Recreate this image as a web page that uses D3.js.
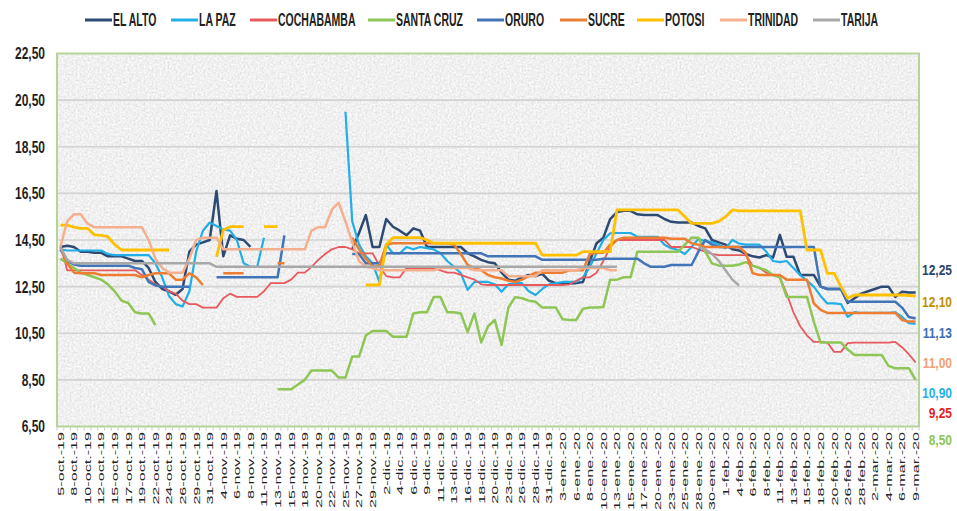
<!DOCTYPE html>
<html>
<head>
<meta charset="utf-8">
<script src="https://cdn.jsdelivr.net/npm/d3@7"></script>
<style>
  body { margin: 0; background: #fff; }
  svg { display: block; font-family: "Liberation Sans", Arial, sans-serif; }
</style>
</head>
<body>
<svg id="chart" width="957" height="511"></svg>
<script>
const _ = null;

// one category per quoted day (Mon-Sat); only every second day carries a label
const dateLabels = [
  "5-oct.-19", "8-oct.-19", "10-oct.-19", "12-oct.-19", "15-oct.-19", "17-oct.-19", "19-oct.-19", "22-oct.-19",
  "24-oct.-19", "26-oct.-19", "29-oct.-19", "31-oct.-19", "4-nov.-19", "6-nov.-19", "8-nov.-19", "11-nov.-19",
  "13-nov.-19", "15-nov.-19", "18-nov.-19", "20-nov.-19", "22-nov.-19", "25-nov.-19", "27-nov.-19", "29-nov.-19",
  "2-dic.-19", "4-dic.-19", "6-dic.-19", "9-dic.-19", "11-dic.-19", "13-dic.-19", "16-dic.-19", "18-dic.-19",
  "20-dic.-19", "23-dic.-19", "26-dic.-19", "28-dic.-19", "31-dic.-19", "3-ene.-20", "6-ene.-20", "8-ene.-20",
  "10-ene.-20", "13-ene.-20", "15-ene.-20", "17-ene.-20", "20-ene.-20", "23-ene.-20", "25-ene.-20", "28-ene.-20",
  "30-ene.-20", "1-feb.-20", "4-feb.-20", "6-feb.-20", "8-feb.-20", "11-feb.-20", "13-feb.-20", "15-feb.-20",
  "18-feb.-20", "20-feb.-20", "26-feb.-20", "28-feb.-20", "2-mar.-20", "4-mar.-20", "6-mar.-20", "9-mar.-20"
];
const nDays = 127;

const elAlto = [
  14.2, 14.25, 14.2, 14.0, 14.0, 13.95, 13.95, 13.8, 13.8, 13.8,
  13.7, 13.6, 13.6, 13.3, 12.7, 12.4, 12.3, 12.15, 12.4, 14.0,
  14.3, 14.4, 14.5, 16.6, 13.8, 14.7, 14.55, 14.5, 14.2, _,
  _, _, _, _, _, _, _, _, _, _,
  _, _, _, 14.1, 14.8, 15.57, 14.2, 14.2, 15.4, 15.07,
  14.9, 14.7, 15.0, 14.9, 14.2, 14.2, 14.2, 14.2, 14.2, 14.2,
  13.93, 13.8, 13.65, 13.55, 13.5, 13.1, 12.8, 12.75, 12.9, 13.0,
  12.95, 13.05, 12.75, 12.65, 12.65, 12.65, 12.65, 12.7, 13.6, 14.36,
  14.6, 15.4, 15.7, 15.75, 15.75, 15.6, 15.57, 15.57, 15.57, 15.4,
  15.28, 15.25, 15.25, 15.25, 15.1, 15.0, 14.5, 14.4, 14.3, 14.1,
  14.05, 13.9, 13.8, 13.75, 13.85, 13.75, 14.72, 13.78, 13.78, 13.0,
  13.0, 13.0, 12.5, 12.4, 12.4, 12.4, 11.8, 12.0, 12.2, 12.3,
  12.4, 12.5, 12.5, 12.06, 12.28, 12.25, 12.25
];
const laPaz = [
  14.1, 14.05, 14.05, 14.05, 14.05, 14.05, 14.05, 13.9, 13.85, 13.85,
  13.85, 13.85, 13.85, 13.85, 13.5, 12.9, 12.1, 11.75, 11.65, 12.3,
  14.0, 14.9, 15.25, 15.1, 14.95, 14.9, 14.5, 13.5, 13.35, 13.35,
  14.6, _, _, _, _, _, _, _, _, _,
  _, _, 20.0, 15.3, 14.3, 13.8, 13.5, 12.7, 14.3, 13.93,
  13.93, 14.2, 14.1, 14.2, 14.15, 14.1, 13.93, 13.6, 13.35, 13.07,
  12.36, 12.7, 12.7, 12.7, 12.6, 12.28, 12.6, 12.65, 12.65, 12.3,
  12.14, 12.4, 12.6, 12.65, 12.7, 12.7, 12.7, 12.9, 13.35, 13.93,
  14.5, 14.79, 14.8, 14.8, 14.8, 14.64, 14.64, 14.64, 14.64, 14.3,
  14.15, 14.07, 13.9, 14.2, 14.55, 14.45, 14.4, 14.3, 14.15, 14.5,
  14.35, 14.3, 14.3, 14.3, 14.0, 13.6, 13.55, 13.6, 13.3, 13.0,
  12.75, 12.5, 12.1, 11.78, 11.78, 11.75, 11.2, 11.41, 11.37, 11.37,
  11.37, 11.37, 11.37, 11.4, 11.2, 10.93, 10.9
];
const cochabamba = [
  14.3, 13.2, 13.2, 13.2, 13.2, 13.2, 13.2, 13.2, 13.2, 13.2,
  13.2, 13.2, 13.0, 12.8, 12.6, 12.5, 12.3, 12.2, 11.9, 11.75,
  11.75, 11.6, 11.6, 11.6, 12.0, 12.2, 12.06, 12.06, 12.06, 12.06,
  12.3, 12.65, 12.65, 12.65, 12.8, 13.1, 13.1, 13.35, 13.65, 13.9,
  14.1, 14.2, 14.2, 14.1, 13.93, 13.93, 13.93, 13.4, 12.95, 12.9,
  12.9, 13.3, 13.3, 13.3, 13.3, 13.3, 13.2, 13.1, 13.1, 13.0,
  12.9, 12.8, 12.6, 12.57, 12.57, 12.57, 12.57, 12.57, 12.57, 12.57,
  12.57, 12.57, 12.57, 12.57, 12.57, 12.6, 12.75, 12.9, 12.9, 13.1,
  13.6, 14.2, 14.5, 14.5, 14.5, 14.5, 14.5, 14.5, 14.5, 14.5,
  14.2, 14.2, 14.2, 14.2, 14.1, 14.0, 13.9, 13.85, 13.85, 13.85,
  13.85, 13.85, 13.4, 13.3, 13.1, 13.0, 12.9, 12.2, 11.4, 10.8,
  10.4, 10.13, 10.13, 10.1, 9.7, 9.7, 10.08, 10.1, 10.1, 10.1,
  10.1, 10.1, 10.1, 10.13, 9.9, 9.6, 9.25
];
const santaCruz = [
  13.7, 13.5, 13.3, 13.1, 13.0, 12.9, 12.8, 12.6, 12.3, 11.9,
  11.8, 11.4, 11.35, 11.35, 10.85, _, _, _, _, _,
  _, _, _, _, _, _, _, _, _, _,
  _, _, 8.1, 8.1, 8.1, 8.3, 8.5, 8.9, 8.9, 8.9,
  8.9, 8.6, 8.6, 9.5, 9.5, 10.4, 10.6, 10.6, 10.6, 10.35,
  10.35, 10.35, 11.35, 11.4, 11.4, 12.05, 12.05, 11.4, 11.4, 11.35,
  10.55, 11.35, 10.1, 10.8, 11.07, 10.0, 11.6, 12.05, 12.0, 11.9,
  11.85, 11.6, 11.6, 11.6, 11.1, 11.07, 11.07, 11.55, 11.6, 11.6,
  11.63, 12.8, 12.8, 12.9, 12.9, 14.0, 14.0, 14.0, 14.0, 14.0,
  14.0, 14.0, 14.3, 14.6, 14.6, 14.0, 13.5, 13.4, 13.4, 13.4,
  13.45, 13.55, 13.4, 13.3, 13.2, 13.0, 12.9, 12.06, 12.06, 12.06,
  12.06, 11.0, 10.1, 10.1, 10.1, 10.1, 9.8, 9.57, 9.57, 9.57,
  9.57, 9.57, 9.1, 9.0, 9.0, 9.0, 8.5
];
const oruro = [
  14.1, 13.6, 13.45, 13.4, 13.4, 13.4, 13.4, 13.4, 13.4, 13.4,
  13.4, 13.3, 13.25, 12.7, 12.55, 12.5, 12.5, 12.5, 12.5, 12.5,
  _, _, _, 12.9, 12.9, 12.9, 12.9, 12.9, 12.9, 12.9,
  12.9, 12.9, 12.9, 14.7, _, _, _, _, _, _,
  _, _, _, 13.9, 13.9, 13.5, 13.5, 13.5, 13.93, 13.93,
  13.93, 13.93, 13.93, 13.93, 13.93, 13.93, 13.93, 13.93, 13.93, 13.93,
  13.93, 13.93, 13.93, 13.8, 13.8, 13.8, 13.8, 13.8, 13.8, 13.8,
  13.8, 13.65, 13.65, 13.65, 13.65, 13.65, 13.65, 13.65, 13.65, 13.65,
  13.7, 13.7, 13.7, 13.7, 13.7, 13.7, 13.5, 13.35, 13.35, 13.35,
  13.43, 13.43, 13.43, 13.43, 14.0, 14.5, 14.3, 14.2, 14.2, 14.2,
  14.2, 14.2, 14.2, 14.2, 14.2, 14.2, 14.2, 14.2, 14.2, 14.2,
  14.2, 14.2, 12.5, 12.4, 12.4, 12.4, 11.85, 11.85, 11.85, 11.85,
  11.85, 11.85, 11.85, 11.85, 11.6, 11.2, 11.13
];
const sucre = [
  14.2, 13.5, 13.1, 13.07, 13.07, 13.07, 13.0, 13.0, 13.0, 13.0,
  13.0, 13.0, 12.9, 13.0, 13.07, 13.07, 13.07, 12.8, 12.8, 13.07,
  12.9, 12.57, _, _, 13.07, 13.07, 13.07, 13.07, _, _,
  _, _, 13.5, 13.5, _, _, _, _, _, _,
  _, _, _, 14.6, 14.1, 13.7, 13.35, 13.4, 14.3, 14.36,
  14.36, 14.36, 14.36, 14.36, 14.36, 14.36, 14.36, 14.36, 14.3, 13.9,
  13.43, 13.3, 13.2, 13.0, 12.9, 12.85, 12.75, 12.7, 12.8, 12.95,
  13.1, 13.1, 13.1, 13.1, 13.1, 13.2, 13.2, 13.2, 13.9, 13.95,
  13.95, 14.3, 14.5, 14.6, 14.6, 14.6, 14.6, 14.6, 14.6, 14.6,
  14.55, 14.55, 14.55, 14.36, 14.3, 14.2, 14.2, 14.2, 14.2, 14.2,
  14.2, 13.93, 13.07, 13.0, 13.0, 13.0, 13.0, 12.8, 12.8, 12.8,
  12.8, 11.78, 11.5, 11.37, 11.37, 11.37, 11.37, 11.37, 11.37, 11.37,
  11.37, 11.37, 11.37, 11.37, 11.07, 11.0, 11.0
];
const potosi = [
  15.14, 15.14, 15.05, 15.0, 15.0, 14.72, 14.7, 14.64, 14.3, 14.07,
  14.07, 14.07, 14.07, 14.07, 14.07, 14.07, 14.07, _, _, _,
  _, _, _, 13.78, 14.93, 15.07, 15.07, 15.07, _, _,
  15.07, 15.07, 15.07, _, _, _, _, _, _, _,
  _, _, _, _, _, 12.57, 12.57, 12.57, 14.3, 14.6,
  14.6, 14.6, 14.6, 14.6, 14.5, 14.36, 14.36, 14.36, 14.36, 14.36,
  14.36, 14.36, 14.36, 14.36, 14.36, 14.36, 14.36, 14.36, 14.36, 14.36,
  14.36, 13.85, 13.85, 13.85, 13.85, 13.85, 13.85, 14.0, 14.0, 14.0,
  14.0, 14.0, 15.79, 15.79, 15.79, 15.79, 15.79, 15.79, 15.79, 15.79,
  15.79, 15.79, 15.5, 15.21, 15.21, 15.21, 15.21, 15.3, 15.5, 15.79,
  15.75, 15.75, 15.75, 15.75, 15.75, 15.75, 15.75, 15.75, 15.75, 15.75,
  14.07, 14.07, 14.07, 13.07, 13.07, 12.5, 12.0, 12.14, 12.14, 12.14,
  12.14, 12.14, 12.14, 12.14, 12.14, 12.12, 12.1
];
const trinidad = [
  14.2, 15.3, 15.6, 15.6, 15.2, 15.05, 15.05, 15.05, 15.05, 15.05,
  15.05, 15.05, 15.05, 14.5, 13.7, 13.3, 13.1, 13.1, 13.1, 13.7,
  14.5, 14.6, 14.6, 14.6, 14.1, 14.1, 14.1, 14.1, 14.1, 14.1,
  14.1, 14.1, 14.1, 14.1, 14.1, 14.1, 14.1, 14.9, 15.05, 15.05,
  15.8, 16.1, 15.3, 14.4, 13.6, 13.35, 13.3, 13.2, 13.2, 13.2,
  13.2, 13.2, 13.2, 13.2, 13.2, 13.2, 13.3, 13.3, 13.3, 13.3,
  13.3, 13.2, 13.2, 13.2, 13.2, 13.2, 12.95, 12.95, 12.95, 12.95,
  12.95, 13.2, 13.2, 13.2, 13.2, 13.2, 13.2, 13.3, 13.3, 13.3,
  13.3, 13.2, 13.2, _, _, _, _, _, _, _,
  _, _, _, _, _, _, _, _, _, _,
  _, _, _, _, _, _, _, _, _, _,
  _, _, _, _, _, _, _, _, _, _,
  _, _, _, _, _, _, _
];
const tarija = [
  14.2, 13.65, 13.5, 13.5, 13.5, 13.5, 13.5, 13.5, 13.5, 13.5,
  13.5, 13.5, 13.5, 13.5, 13.5, 13.5, 13.5, 13.5, 13.5, 13.5,
  13.5, 13.5, 13.5, 13.35, 13.35, 13.35, 13.35, 13.35, 13.35, 13.35,
  13.35, 13.35, 13.35, 13.35, 13.35, 13.35, 13.35, 13.35, 13.35, 13.35,
  13.35, 13.35, 13.35, 13.35, 13.35, 13.35, 13.35, 13.35, 13.35, 13.35,
  13.35, 13.35, 13.35, 13.35, 13.35, 13.35, 13.35, 13.35, 13.35, 13.35,
  13.35, 13.35, 13.35, 13.35, 13.35, 13.35, 13.35, 13.35, 13.35, 13.35,
  13.35, 13.35, 13.35, 13.35, 13.35, 13.35, 13.35, 13.35, 13.35, 13.35,
  13.35, 13.35, 13.35, _, _, _, _, _, _, _,
  _, _, _, _, 14.2, 14.1, 13.9, 13.6, 13.2, 12.8,
  12.55, _, _, _, _, _, _, _, _, _,
  _, _, _, _, _, _, _, _, _, _,
  _, _, _, _, _, _, _
];

const seriesNames = ["EL ALTO", "LA PAZ", "COCHABAMBA", "SANTA CRUZ", "ORURO", "SUCRE", "POTOSI", "TRINIDAD", "TARIJA"];
const seriesValues = [elAlto, laPaz, cochabamba, santaCruz, oruro, sucre, potosi, trinidad, tarija];
const seriesColors = ["#2c4a74", "#22aee6", "#e8595e", "#8dc655", "#4274b8", "#ed7d31", "#ffc000", "#f4b08e", "#a8a8a8"];
const seriesWidths = [2.5, 2.2, 1.8, 2.5, 2.5, 2.5, 2.8, 2.5, 2.5];

// last values written at the right edge
const endLabels = ["12,25", "12,10", "11,13", "11,00", "10,90", "9,25", "8,50"];
const endColors = ["#2c4470", "#bf9000", "#3d6db3", "#f0a072", "#1fb0e8", "#e01f1f", "#8cc45a"];

const yTicks = d3.range(6.5, 22.51, 2);

// ---- layout ----
const plot = {left: 57, right: 919, top: 53.5, bottom: 426.5};
const svg = d3.select("#chart");

const x = d3.scaleBand().domain(d3.range(nDays)).range([plot.left, plot.right]);
const cx = i => x(i) + x.bandwidth() / 2;
const y = d3.scaleLinear().domain([6.5, 22.5]).range([plot.bottom, plot.top]);
const fmt = v => d3.format(".2f")(v).replace(".", ",");

// textured plot background
const defs = svg.append("defs");
const grain = defs.append("filter").attr("id", "grain")
  .attr("x", 0).attr("y", 0).attr("width", "100%").attr("height", "100%");
grain.append("feTurbulence").attr("type", "fractalNoise")
  .attr("baseFrequency", "0.5").attr("numOctaves", 3).attr("seed", 7).attr("result", "noise");
grain.append("feColorMatrix").attr("type", "saturate").attr("values", 0);
const ct = grain.append("feComponentTransfer");
["feFuncR", "feFuncG", "feFuncB"].forEach(f =>
  ct.append(f).attr("type", "linear").attr("slope", 0.55).attr("intercept", 0.6));
ct.append("feFuncA").attr("type", "table").attr("tableValues", "1 1");

svg.append("rect")
  .attr("x", plot.left).attr("y", plot.top)
  .attr("width", plot.right - plot.left).attr("height", plot.bottom - plot.top)
  .attr("filter", "url(#grain)");

// gridlines
svg.append("g")
  .selectAll("line")
  .data(yTicks.slice(1, -1))
  .join("line")
    .attr("x1", plot.left).attr("x2", plot.right)
    .attr("y1", d => y(d)).attr("y2", d => y(d))
    .attr("stroke", "#d2d2d2").attr("stroke-width", 1.6);

// border
svg.append("rect")
  .attr("x", plot.left).attr("y", plot.top)
  .attr("width", plot.right - plot.left).attr("height", plot.bottom - plot.top)
  .attr("fill", "none").attr("stroke", "#b3d59b").attr("stroke-width", 2);

// small ticks under the axis
svg.append("g")
  .selectAll("line")
  .data(d3.range(nDays + 1))
  .join("line")
    .attr("x1", i => plot.left + i * x.step()).attr("x2", i => plot.left + i * x.step())
    .attr("y1", plot.bottom + 1).attr("y2", plot.bottom + 4)
    .attr("stroke", "#c9c9c9").attr("stroke-width", 1);

// y labels
svg.append("g")
  .selectAll("text")
  .data(yTicks)
  .join("text")
    .attr("transform", d => `translate(45,${y(d)}) scale(1,1.4)`)
    .attr("text-anchor", "end")
    .attr("dy", "0.35em")
    .attr("font-size", 12)
    .attr("font-weight", "bold")
    .attr("fill", "#1e1e1e")
    .text(fmt);

// x labels, every second day
svg.append("g")
  .selectAll("text")
  .data(dateLabels)
  .join("text")
    .attr("transform", (d, j) => `translate(${cx(j * 2)},432) scale(1,1.68) rotate(-90)`)
    .attr("text-anchor", "end")
    .attr("dy", "0.35em")
    .attr("font-size", 9.6)
    .attr("fill", "#222")
    .text(d => d);

// lines
const line = d3.line()
  .defined(d => d[1] != null)
  .x(d => cx(d[0]))
  .y(d => y(d[1]));

svg.append("g")
  .attr("fill", "none")
  .attr("stroke-linejoin", "round")
  .selectAll("path")
  .data(seriesValues)
  .join("path")
    .attr("stroke", (d, k) => seriesColors[k])
    .attr("stroke-width", (d, k) => seriesWidths[k])
    .attr("d", vals => line(vals.map((v, i) => [i, v])));

// end labels
const endY = [270, 302, 333, 363, 393, 413, 440];
svg.append("g")
  .selectAll("text")
  .data(endLabels)
  .join("text")
    .attr("transform", (d, k) => `translate(952,${endY[k]}) scale(1,1.25)`)
    .attr("text-anchor", "end")
    .attr("dy", "0.35em")
    .attr("font-size", 12)
    .attr("font-weight", "bold")
    .attr("fill", (d, k) => endColors[k])
    .text(d => d);

// legend
const legendX = [85, 171, 250, 368, 477, 560, 637, 720, 813];
const legend = svg.append("g")
  .selectAll("g")
  .data(seriesNames)
  .join("g")
    .attr("transform", (d, k) => `translate(${legendX[k]},20)`);
legend.append("line")
  .attr("x1", 0).attr("x2", 27)
  .attr("stroke", (d, k) => seriesColors[k])
  .attr("stroke-width", 3);
legend.append("text")
  .attr("transform", "translate(28,0) scale(1,1.7)")
  .attr("dy", "0.36em")
  .attr("font-size", 10.5)
  .attr("font-weight", "bold")
  .attr("fill", "#222")
  .text(d => d);
</script>
</body>
</html>
